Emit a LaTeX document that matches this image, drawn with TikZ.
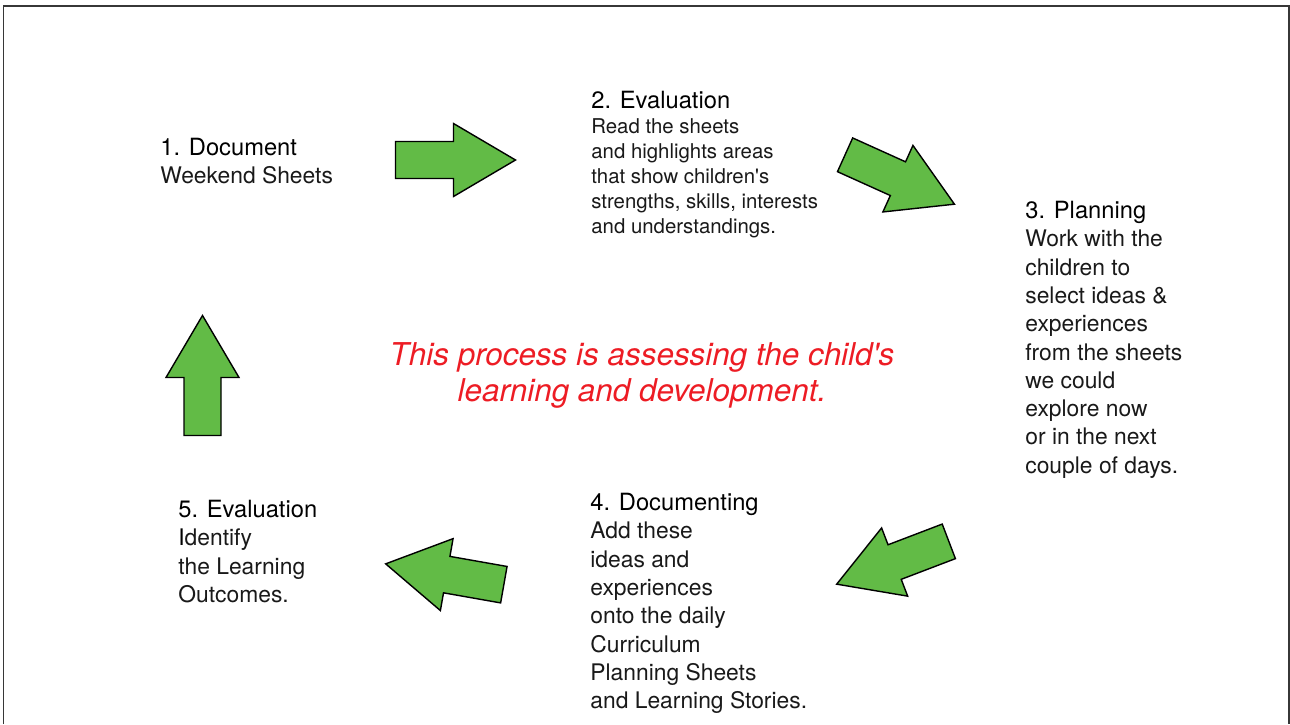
\documentclass[tikz,border=0pt]{standalone}
\usepackage{fontspec}
\setmainfont{TeX Gyre Heros}
\usepackage{xcolor}
\definecolor{arrowgreen}{RGB}{98,187,70}
\definecolor{msgred}{RGB}{237,28,36}
\definecolor{framegray}{RGB}{55,55,55}
\tikzset{
  stepblock/.style={align=left,anchor=north west,inner sep=0pt,text=black!90,font=\fontsize{13}{16.1}\selectfont},
  blockarrow/.style={fill=arrowgreen,draw=black,line width=0.8pt,line join=miter},
}
\newcommand{\steptitle}[1]{{\fontsize{13.5}{16.1}\selectfont\color{black}#1}}
\newcommand{\greenarrow}[3]{\draw[blockarrow,shift={(#1,#2)},rotate=#3] (-60,-18.5) -- (-2,-18.5) -- (-2,-36.5) -- (60,0) -- (-2,36.5) -- (-2,18.5) -- (-60,18.5) -- cycle;}

\begin{document}
\begin{tikzpicture}[x=0.02cm,y=0.02cm]
    \useasboundingbox (0,0) rectangle (1290,-724);
    \draw[framegray,line width=0.9pt] (3.5,-724) -- (3.5,-6) -- (1289,-6) -- (1289,-724);

    \node[stepblock] (Doc) at (160,-138) {\steptitle{1. Document}\\ Weekend Sheets};
    \node[stepblock,font=\fontsize{11.6}{14.2}\selectfont] (Eval) at (591,-91) {\steptitle{2. Evaluation}\\ Read the sheets\\ and highlights areas\\ that show children\textquotesingle s\\ strengths, skills, interests\\ and understandings.};
    \node[stepblock] (Plan) at (1025,-201) {\steptitle{3. Planning}\\ Work with the\\ children to\\ select ideas \&\\ experiences\\ from the sheets\\ we could\\ explore now\\ or in the next\\ couple of days.};
    \node[stepblock] (Docu) at (590,-493) {\steptitle{4. Documenting}\\ Add these\\ ideas and\\ experiences\\ onto the daily\\ Curriculum\\ Planning Sheets\\ and Learning Stories.};
    \node[stepblock] (Outc) at (178,-500) {\steptitle{5. Evaluation}\\ {\color{black}I}dentify\\ the Learning\\ Outcomes.};
    \node[align=center,anchor=north,inner sep=0pt,text=msgred,font=\fontsize{17.9}{20.4}\selectfont\itshape] (Msg) at (642,-342) {This process is assessing the child\textquotesingle s\\ learning and development.};

    % Arrows
    \greenarrow{455.5}{-160}{0}
    \greenarrow{899.75}{-179.5}{-24.3}
    \greenarrow{892.75}{-562.75}{200.9}
    \greenarrow{444.75}{-574.25}{170}
    \greenarrow{202.5}{-375.5}{90}
\end{tikzpicture}
\end{document}
